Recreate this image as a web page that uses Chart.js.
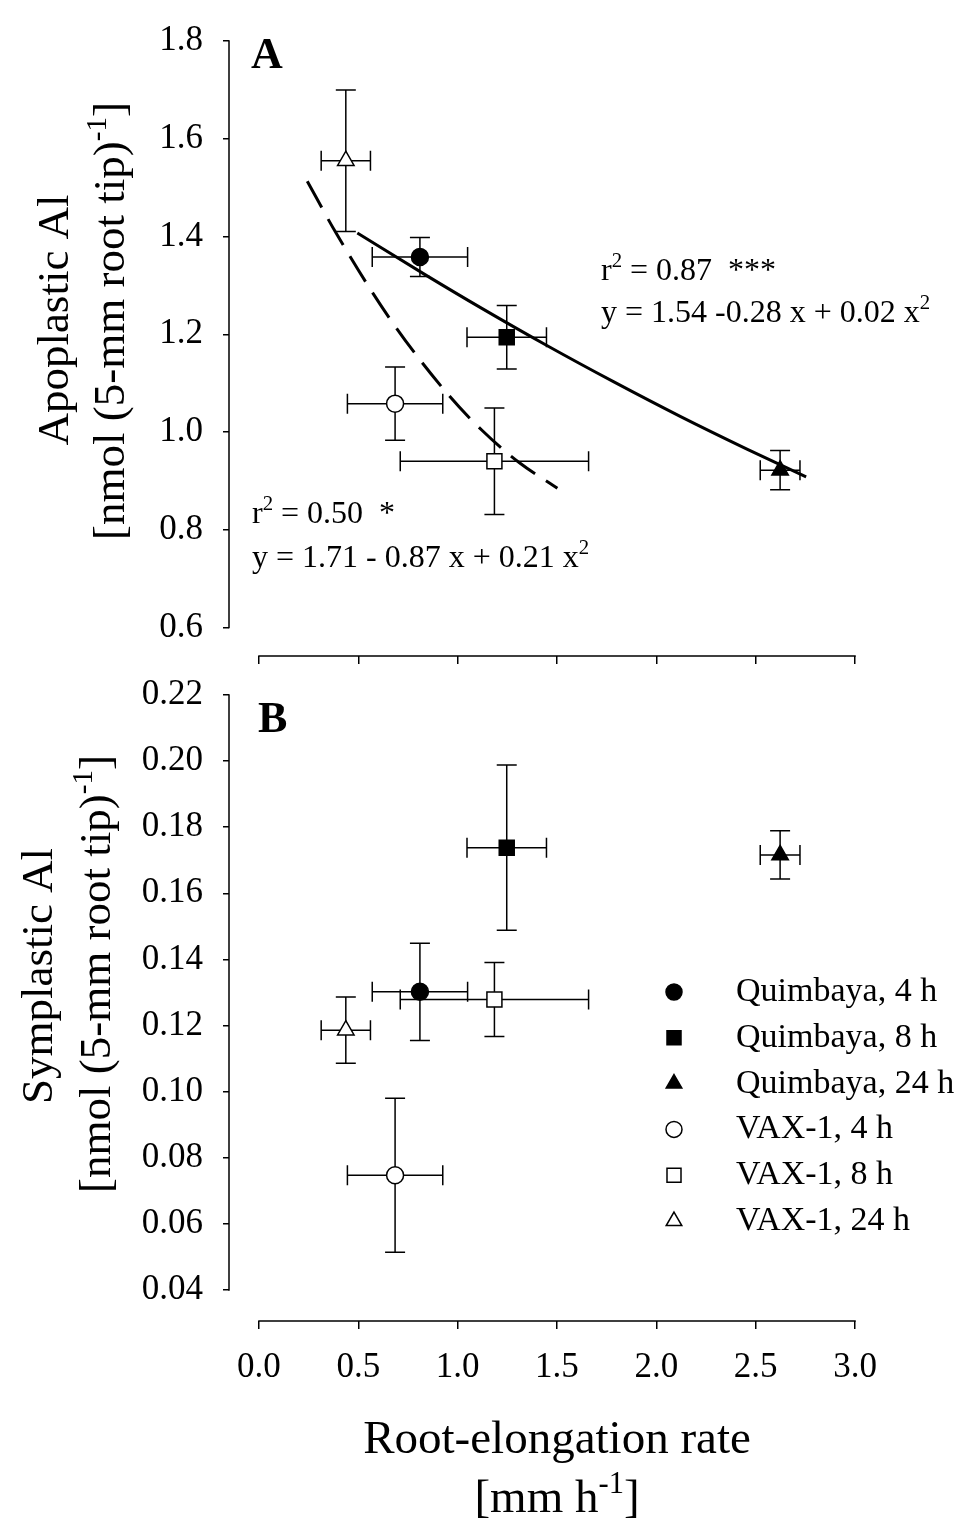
<!DOCTYPE html>
<html>
<head>
<meta charset="utf-8">
<script src="https://cdn.jsdelivr.net/npm/chart.js@4.4.1/dist/chart.umd.min.js"></script>
<style>
  html, body { margin: 0; padding: 0; background: #fff; }
  #wrap { position: relative; width: 974px; height: 1521px; }
  canvas { position: absolute; left: 0; }
  #panelA { top: 0; }
  #panelB { top: 640px; }
</style>
</head>
<body>
<div id="wrap">
  <canvas id="panelA" width="974" height="700"></canvas>
  <canvas id="panelB" width="974" height="881"></canvas>
</div>
<script>
// Apoplastic / symplastic Al vs root elongation rate (two stacked panels)

const FONT = "'Liberation Serif', 'Times New Roman', serif";
Chart.defaults.font.family = FONT;
Chart.defaults.color = '#000';

// treatments, same order in every array below
const treatments = ['Quimbaya, 4 h', 'Quimbaya, 8 h', 'Quimbaya, 24 h', 'VAX-1, 4 h', 'VAX-1, 8 h', 'VAX-1, 24 h'];

// x: root-elongation rate [mm h-1] and its error
const rootRate    = [0.81, 1.247, 2.623, 0.685, 1.185, 0.437];
const rootRateErr = [0.24, 0.20, 0.10, 0.24, 0.474, 0.124];

// panel A: apoplastic Al
const apoplasticAl  = [1.358, 1.194, 0.922, 1.058, 0.940, 1.555];
const apoplasticErr = [0.040, 0.065, 0.040, 0.075, 0.109, 0.145];

// panel B: symplastic Al
const symplasticAl  = [0.1302, 0.1738, 0.1716, 0.0747, 0.1279, 0.1186];
const symplasticErr = [0.0147, 0.025, 0.0073, 0.0233, 0.0112, 0.010];

// regression curves
const fitQuimbayaX = [0.495, 0.844, 1.113, 1.449, 1.784, 2.120, 2.456, 2.754];
const fitQuimbayaY = [1.407, 1.320, 1.255, 1.177, 1.103, 1.032, 0.965, 0.908];
const fitVaxX = [0.243, 0.391, 0.66, 0.945, 1.121, 1.311, 1.502];
const fitVaxY = [1.513, 1.405, 1.231, 1.080, 1.004, 0.937, 0.885];

// tick labels
const rateTicks = [0, 0.5, 1.0, 1.5, 2.0, 2.5, 3.0];
const apoTicks  = [0.6, 0.8, 1.0, 1.2, 1.4, 1.6, 1.8];
const symTicks  = [0.04, 0.06, 0.08, 0.10, 0.12, 0.14, 0.16, 0.18, 0.20, 0.22];

// marker look per treatment
const markerStyle = ['circle', 'rect', 'triangle', 'circle', 'rect', 'triangle'];
const markerFill  = ['#000', '#000', '#000', '#fff', '#fff', '#fff'];
const markerRadius = { circle: 8.5, rect: 10.6, triangle: 9.5 };

// --- helpers ---
function drawRich(ctx, parts, x, y, size, align, weight) {
  const w0 = weight || 'normal';
  let w = 0;
  parts.forEach(p => {
    ctx.font = w0 + ' ' + (p.sup ? size * 0.65 : size) + 'px ' + FONT;
    w += ctx.measureText(p.t).width;
  });
  let cx = align === 'center' ? x - w / 2 : x;
  ctx.textAlign = 'left';
  ctx.textBaseline = 'alphabetic';
  parts.forEach(p => {
    ctx.font = w0 + ' ' + (p.sup ? size * 0.65 : size) + 'px ' + FONT;
    ctx.fillText(p.t, cx, p.sup ? y - size * 0.4 : y);
    cx += ctx.measureText(p.t).width;
  });
}

function drawRotated(ctx, parts, x, y, size) {
  ctx.save();
  ctx.translate(x, y);
  ctx.rotate(-Math.PI / 2);
  drawRich(ctx, parts, 0, 0, size, 'center');
  ctx.restore();
}

function drawMarker(ctx, style, x, y, fill) {
  ctx.beginPath();
  if (style === 'circle') {
    ctx.arc(x, y, 8, 0, Math.PI * 2);
  } else if (style === 'rect') {
    ctx.rect(x - 7, y - 7, 14, 14);
  } else {
    const r = 9;
    ctx.moveTo(x, y - r);
    ctx.lineTo(x + r * 0.866, y + r / 2);
    ctx.lineTo(x - r * 0.866, y + r / 2);
    ctx.closePath();
  }
  ctx.fillStyle = fill;
  ctx.fill();
  ctx.lineWidth = 1.5;
  ctx.strokeStyle = '#000';
  ctx.stroke();
}

function makeErrorBars(ys, yErr) {
  return {
    id: 'errorBars',
    beforeDatasetsDraw(chart) {
      const { ctx, scales: { x, y } } = chart;
      const cap = 10;
      ctx.save();
      ctx.strokeStyle = '#000';
      ctx.lineWidth = 1.5;
      rootRate.forEach((xv, i) => {
        const px = x.getPixelForValue(xv);
        const py = y.getPixelForValue(ys[i]);
        const xl = x.getPixelForValue(xv - rootRateErr[i]);
        const xr = x.getPixelForValue(xv + rootRateErr[i]);
        const yt = y.getPixelForValue(ys[i] + yErr[i]);
        const yb = y.getPixelForValue(ys[i] - yErr[i]);
        ctx.beginPath();
        ctx.moveTo(xl, py); ctx.lineTo(xr, py);
        ctx.moveTo(xl, py - cap); ctx.lineTo(xl, py + cap);
        ctx.moveTo(xr, py - cap); ctx.lineTo(xr, py + cap);
        ctx.moveTo(px, yt); ctx.lineTo(px, yb);
        ctx.moveTo(px - cap, yt); ctx.lineTo(px + cap, yt);
        ctx.moveTo(px - cap, yb); ctx.lineTo(px + cap, yb);
        ctx.stroke();
      });
      ctx.restore();
    }
  };
}

// offset axis lines (SigmaPlot style: x and y lines do not meet)
function makeAxisLines(yTicks) {
  return {
    id: 'axisLines',
    afterDraw(chart) {
      const { ctx, chartArea, scales: { x, y } } = chart;
      ctx.save();
      ctx.strokeStyle = '#000';
      ctx.lineWidth = 1.5;
      ctx.beginPath();
      ctx.moveTo(x.getPixelForValue(rateTicks[0]) - 0.75, chartArea.bottom);
      ctx.lineTo(x.getPixelForValue(rateTicks[rateTicks.length - 1]) + 0.75, chartArea.bottom);
      ctx.moveTo(chartArea.left, y.getPixelForValue(yTicks[0]) + 0.75);
      ctx.lineTo(chartArea.left, y.getPixelForValue(yTicks[yTicks.length - 1]) - 0.75);
      ctx.stroke();
      ctx.restore();
    }
  };
}

function xScale(showLabels, height) {
  return {
    type: 'linear',
    min: -0.151,
    max: 3.0,
    afterBuildTicks: s => { s.ticks = rateTicks.map(v => ({ value: v })); },
    afterFit: s => { s.height = height; },
    border: { display: false },
    grid: { drawOnChartArea: false, drawTicks: true, tickLength: 8, color: '#000', lineWidth: 1.5 },
    ticks: {
      display: showLabels, padding: 18, color: '#000', font: { size: 35 },
      maxRotation: 0, autoSkip: false,
      callback: v => v.toFixed(1)
    }
  };
}

function yScale(min, max, ticks, digits) {
  return {
    type: 'linear',
    min: min,
    max: max,
    afterBuildTicks: s => { s.ticks = ticks.map(v => ({ value: v })); },
    afterFit: s => { s.width = 229; },
    border: { display: false },
    grid: { drawOnChartArea: false, drawTicks: true, tickLength: 6, color: '#000', lineWidth: 1.5 },
    ticks: {
      padding: 20, color: '#000', font: { size: 35 }, autoSkip: false,
      callback: v => v.toFixed(digits)
    }
  };
}

function pointDataset(ys) {
  return {
    label: 'points',
    order: 1,
    data: rootRate.map((x, i) => ({ x: x, y: ys[i] })),
    pointStyle: markerStyle,
    backgroundColor: markerFill,
    borderColor: '#000',
    borderWidth: 1.5,
    pointRadius: markerStyle.map(s => markerRadius[s]),
    pointHoverRadius: markerStyle.map(s => markerRadius[s]),
    showLine: false
  };
}

const commonOptions = {
  responsive: false,
  animation: false,
  events: [],
  plugins: { legend: { display: false }, tooltip: { enabled: false } }
};

const supM1 = [{ t: '[nmol (5-mm root tip)' }, { t: '-1', sup: true }, { t: ']' }];

// --- panel A ---
const textA = {
  id: 'textA',
  afterDraw(chart) {
    const ctx = chart.ctx;
    ctx.save();
    ctx.fillStyle = '#000';
    drawRich(ctx, [{ t: 'A' }], 251, 68, 44, 'left', 'bold');
    drawRich(ctx, [{ t: 'r' }, { t: '2', sup: true }, { t: ' = 0.87  ***' }], 601, 280, 32, 'left');
    drawRich(ctx, [{ t: 'y = 1.54 -0.28 x + 0.02 x' }, { t: '2', sup: true }], 601, 322, 32, 'left');
    drawRich(ctx, [{ t: 'r' }, { t: '2', sup: true }, { t: ' = 0.50  *' }], 252, 523, 32, 'left');
    drawRich(ctx, [{ t: 'y = 1.71 - 0.87 x + 0.21 x' }, { t: '2', sup: true }], 252, 567, 32, 'left');
    drawRotated(ctx, [{ t: 'Apoplastic Al' }], 68, 320, 45);
    drawRotated(ctx, supM1, 124, 321, 45);
    ctx.restore();
  }
};

new Chart(document.getElementById('panelA'), {
  type: 'scatter',
  data: {
    datasets: [
      {
        label: 'Quimbaya fit',
        order: 0,
        data: fitQuimbayaX.map((x, i) => ({ x: x, y: fitQuimbayaY[i] })),
        showLine: true, borderColor: '#000', borderWidth: 3, pointRadius: 0,
        cubicInterpolationMode: 'monotone', fill: false
      },
      {
        label: 'VAX-1 fit',
        order: 0,
        data: fitVaxX.map((x, i) => ({ x: x, y: fitVaxY[i] })),
        showLine: true, borderColor: '#000', borderWidth: 3, pointRadius: 0,
        borderDash: [30, 13], cubicInterpolationMode: 'monotone', fill: false
      },
      pointDataset(apoplasticAl)
    ]
  },
  options: Object.assign({}, commonOptions, {
    layout: { padding: { top: 30, right: 119, left: 0, bottom: 0 } },
    scales: {
      x: xScale(false, 44),
      y: yScale(0.5417, 1.8, apoTicks, 1)
    }
  }),
  plugins: [makeErrorBars(apoplasticAl, apoplasticErr), makeAxisLines(apoTicks), textA]
});

// --- panel B ---
const textB = {
  id: 'textB',
  afterDraw(chart) {
    const ctx = chart.ctx;
    ctx.save();
    ctx.fillStyle = '#000';
    drawRich(ctx, [{ t: 'B' }], 258, 92, 44, 'left', 'bold');
    drawRotated(ctx, [{ t: 'Symplastic Al' }], 52, 336, 45);
    drawRotated(ctx, supM1, 110, 334, 45);
    drawRich(ctx, [{ t: 'Root-elongation rate' }], 557, 813, 47, 'center');
    drawRich(ctx, [{ t: '[mm h' }, { t: '-1', sup: true }, { t: ']' }], 557, 872, 47, 'center');
    // legend
    treatments.forEach((name, i) => {
      const ry = 352 + 45.8 * i;
      drawMarker(ctx, markerStyle[i], 674, ry, markerFill[i]);
      ctx.fillStyle = '#000';
      ctx.font = '34px ' + FONT;
      ctx.textAlign = 'left';
      ctx.textBaseline = 'middle';
      ctx.fillText(name, 736, ry);
    });
    ctx.restore();
  }
};

new Chart(document.getElementById('panelB'), {
  type: 'scatter',
  data: { datasets: [pointDataset(symplasticAl)] },
  options: Object.assign({}, commonOptions, {
    layout: { padding: { top: 55, right: 119, left: 0, bottom: 0 } },
    scales: {
      x: xScale(true, 200),
      y: yScale(0.0306, 0.22, symTicks, 2)
    }
  }),
  plugins: [makeErrorBars(symplasticAl, symplasticErr), makeAxisLines(symTicks), textB]
});
</script>
</body>
</html>
